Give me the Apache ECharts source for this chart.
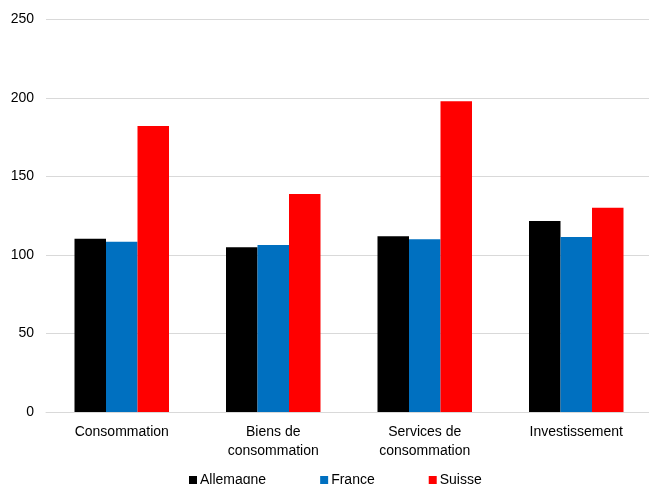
<!DOCTYPE html>
<html>
<head>
<meta charset="utf-8">
<script src="https://cdn.jsdelivr.net/npm/echarts@6/dist/echarts.min.js"></script>
<style>html,body{margin:0;padding:0;background:#fff}#c{width:649px;height:484px}</style>
</head>
<body>
<div id="c"></div>
<script>
const categories = ['Consommation', 'Biens de\nconsommation', 'Services de\nconsommation', 'Investissement'];
const allemagne = [110.4, 104.9, 111.9, 121.7];
const france = [108.5, 106.4, 110.0, 111.5];
const suisse = [182.2, 138.9, 197.9, 130.1];
const yTicks = [0, 50, 100, 150, 200, 250];

const font = 'Liberation Sans, Arial, sans-serif';
const chart = echarts.init(document.getElementById('c'), null, {renderer: 'canvas'});
const mk = (name, data, color) => ({
  name, type: 'bar', data, barWidth: 31.5, barGap: '0%',
  itemStyle: {color}, emphasis: {disabled: true}
});
chart.setOption({
  animation: false,
  backgroundColor: '#fff',
  grid: {left: 46, top: 19.5, width: 606, height: 392.5, containLabel: false, outerBoundsMode: 'none'},
  legend: {
    top: 468, left: 184, itemWidth: 8, itemHeight: 8, itemGap: 54, icon: 'rect',
    textStyle: {fontFamily: font, fontSize: 14, color: '#000', padding: [0, 0, 0, -2]},
    data: ['Allemagne', 'France', 'Suisse']
  },
  xAxis: {
    type: 'category', data: categories,
    axisLine: {show: true, lineStyle: {color: '#d9d9d9', width: 1}},
    axisTick: {show: false},
    axisLabel: {fontFamily: font, fontSize: 14, color: '#000', margin: 11, lineHeight: 18.5, interval: 0}
  },
  yAxis: {
    type: 'value', min: yTicks[0], max: yTicks[yTicks.length - 1], interval: 50,
    axisLine: {show: false}, axisTick: {show: false},
    splitLine: {lineStyle: {color: '#d9d9d9', width: 1}},
    axisLabel: {fontFamily: font, fontSize: 14, color: '#000', margin: 12}
  },
  series: [
    mk('Allemagne', allemagne, '#000000'),
    mk('France', france, '#0070C0'),
    mk('Suisse', suisse, '#FF0000')
  ]
});
</script>
</body>
</html>
